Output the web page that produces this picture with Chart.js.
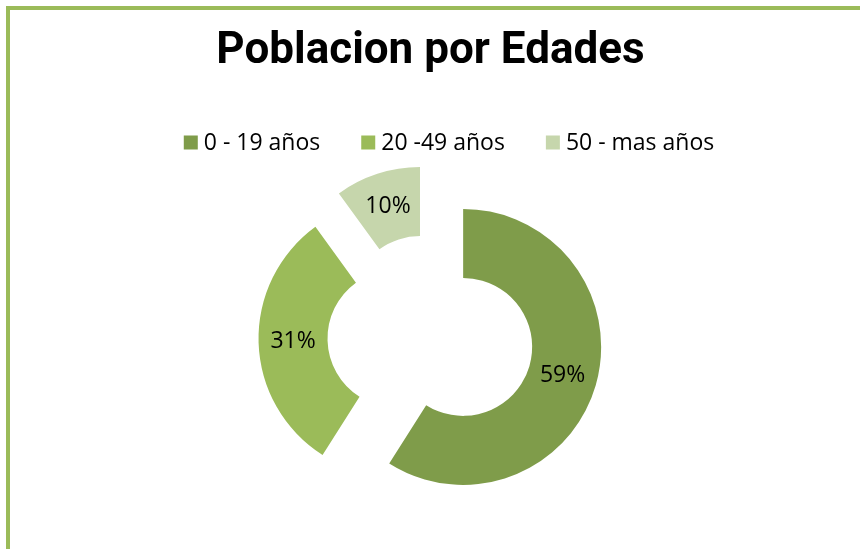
<!DOCTYPE html>
<html><head><meta charset="utf-8">
<script src="https://cdn.jsdelivr.net/npm/chart.js@4.4.1/dist/chart.umd.min.js"></script>
<style>
html,body{margin:0;padding:0;background:#fff;overflow:hidden}
#wrap{position:relative;width:860px;height:549px}
#frame{position:absolute;left:6px;top:6px;width:900px;height:600px;border-left:4px solid #9BBB59;border-top:4px solid #9BBB59;box-sizing:border-box}
canvas{position:absolute;left:0;top:0}
</style></head><body>
<div id="wrap"><div id="frame"></div><canvas id="c" width="860" height="549"></canvas></div>
<script>
const categories = ['0 - 19 años', '20 -49 años', '50 - mas años'];
const values = [59, 31, 10];
const colors = ['#7F9C4A', '#9BBB59', '#C6D6AC'];
const titleText = 'Poblacion por Edades';
const EXPLODE = 34;

const explodePlugin = {
  id: 'explode',
  beforeDatasetsDraw(chart) {
    chart.getDatasetMeta(0).data.forEach(arc => {
      const mid = (arc.startAngle + arc.endAngle) / 2;
      arc.x += Math.cos(mid) * EXPLODE;
      arc.y += Math.sin(mid) * EXPLODE;
    });
  },
  afterDatasetsDraw(chart) {
    const ctx = chart.ctx;
    const meta = chart.getDatasetMeta(0);
    const data = chart.data.datasets[0].data;
    const total = data.reduce((a, b) => a + b, 0);
    ctx.save();
    ctx.font = '23px "Open Sans", sans-serif';
    ctx.fillStyle = '#000';
    ctx.textAlign = 'center';
    ctx.textBaseline = 'middle';
    meta.data.forEach((arc, i) => {
      const p = arc.getCenterPoint();
      ctx.fillText(Math.round(data[i] / total * 100) + '%', p.x, p.y);
    });
    ctx.restore();
    meta.data.forEach(arc => {
      const mid = (arc.startAngle + arc.endAngle) / 2;
      arc.x -= Math.cos(mid) * EXPLODE;
      arc.y -= Math.sin(mid) * EXPLODE;
    });
  }
};

// legend drawn from the chart's own labels and dataset colours
const legendPlugin = {
  id: 'simpleLegend',
  afterDraw(chart) {
    const ctx = chart.ctx;
    const labels = chart.data.labels;
    const bg = chart.data.datasets[0].backgroundColor;
    const box = 14, gapText = 6, gapItem = 41, centerX = 449, midY = 142.5;
    ctx.save();
    ctx.font = '23px "Open Sans", sans-serif';
    ctx.textBaseline = 'middle';
    ctx.textAlign = 'left';
    const widths = labels.map(l => box + gapText + ctx.measureText(l).width);
    const total = widths.reduce((a, b) => a + b, 0) + gapItem * (labels.length - 1);
    let x = centerX - total / 2;
    labels.forEach((l, i) => {
      ctx.fillStyle = bg[i];
      ctx.fillRect(x, midY - box / 2, box, box);
      ctx.fillStyle = '#000';
      ctx.fillText(l, x + box + gapText, midY + 1);
      x += widths[i] + gapItem;
    });
    ctx.restore();
  }
};

new Chart(document.getElementById('c'), {
  type: 'doughnut',
  data: {
    labels: categories,
    datasets: [{ data: values, backgroundColor: colors, borderWidth: 0 }]
  },
  options: {
    responsive: false,
    animation: false,
    radius: 138,
    cutout: '50%',
    layout: { padding: { top: 10, left: 1, right: 0, bottom: 67 } },
    plugins: {
      title: {
        display: true, text: titleText, color: '#000',
        font: { family: 'Roboto, "Liberation Sans", sans-serif', size: 44, weight: 'bold', lineHeight: 1.2 },
        padding: { top: 16, bottom: 114 }
      },
      legend: { display: false },
      tooltip: { enabled: false }
    }
  },
  plugins: [explodePlugin, legendPlugin]
});
</script>
</body></html>
